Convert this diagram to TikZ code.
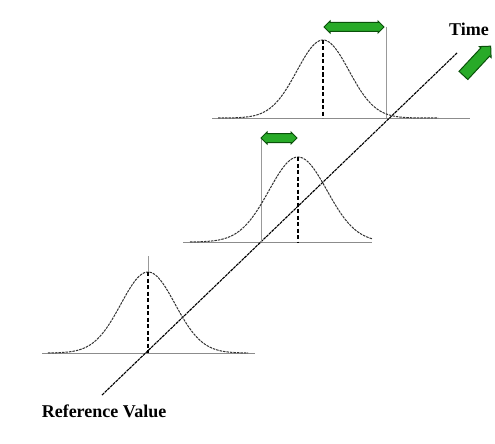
\documentclass[tikz,border=0pt]{standalone}
\usepackage{fontspec}
\setmainfont{Liberation Serif}
\usetikzlibrary{shapes.arrows}
\definecolor{grn}{RGB}{40,170,40}
\definecolor{dgrn}{RGB}{10,80,10}
\tikzset{
  baseln/.style={draw=black!45, line width=1pt},
  bell/.style={draw=black!80, line width=1pt, dash pattern=on 2.5pt off 1pt},
  meanln/.style={draw=black, line width=1.2pt, dash pattern=on 4pt off 2.5pt},
  refln/.style={draw=black!40, line width=0.7pt},
  axisln/.style={draw=black, line width=1.1pt, dash pattern=on 3pt off 0.8pt},
  drift/.style={double arrow, fill=grn, draw=dgrn, line width=1pt, inner xsep=0pt, inner ysep=4pt,
    minimum width=12pt, double arrow head extend=1.5pt, double arrow head indent=0pt},
  timearr/.style={single arrow, fill=grn, draw=dgrn, line width=1pt, inner xsep=0pt, inner ysep=5.5pt,
    minimum width=16pt, single arrow head extend=2pt},
  lbl/.style={font=\fontsize{18}{20}\selectfont\bfseries, inner sep=0pt}
}
\begin{document}
\begin{tikzpicture}[x=1pt,y=-1pt]
\useasboundingbox (0,0) rectangle (495,444);
% baselines
\draw[baseln] (42,353) -- (255,353);
\draw[baseln] (183,242) -- (372,242);
\draw[baseln] (212,118) -- (470,118);
% time axis
\coordinate (refstart) at (102,395);
\coordinate (timeend) at (457,53);
\draw[axisln] (refstart) -- (timeend);
% reference lines
\draw[refln] (148,256) -- (148,272);
\draw[refln] (261,138) -- (261,242);
\draw[refln] (386,27) -- (386,118);
% bell curves
\draw[bell] plot[domain=48:248, samples=90, smooth] (\x, {353-81*exp(-((\x-148)/27)^2/2)});
\draw[bell] plot[domain=190:372, samples=90, smooth] (\x, {242-85*exp(-((\x-298)/29)^2/2)});
\draw[bell] plot[domain=218:438, samples=110, smooth] (\x, {118-78*exp(-((\x-323)/26)^2/2)});
% mean lines
\draw[meanln] (148,272) -- (148,353);
\draw[meanln] (298,157) -- (298,242);
\draw[meanln] (323,40) -- (323,118);
% drift arrows
\node[drift, minimum height=36pt] (d1) at (279,138) {};
\node[drift, minimum height=60pt] (d2) at (354,27) {};
\node[timearr, minimum height=40pt, rotate=47] (tarr) at (475,63) {};
% labels
\node[lbl] (time) at (469,29) {Time};
\node[lbl] (ref) at (104,411) {Reference Value};
\end{tikzpicture}
\end{document}
